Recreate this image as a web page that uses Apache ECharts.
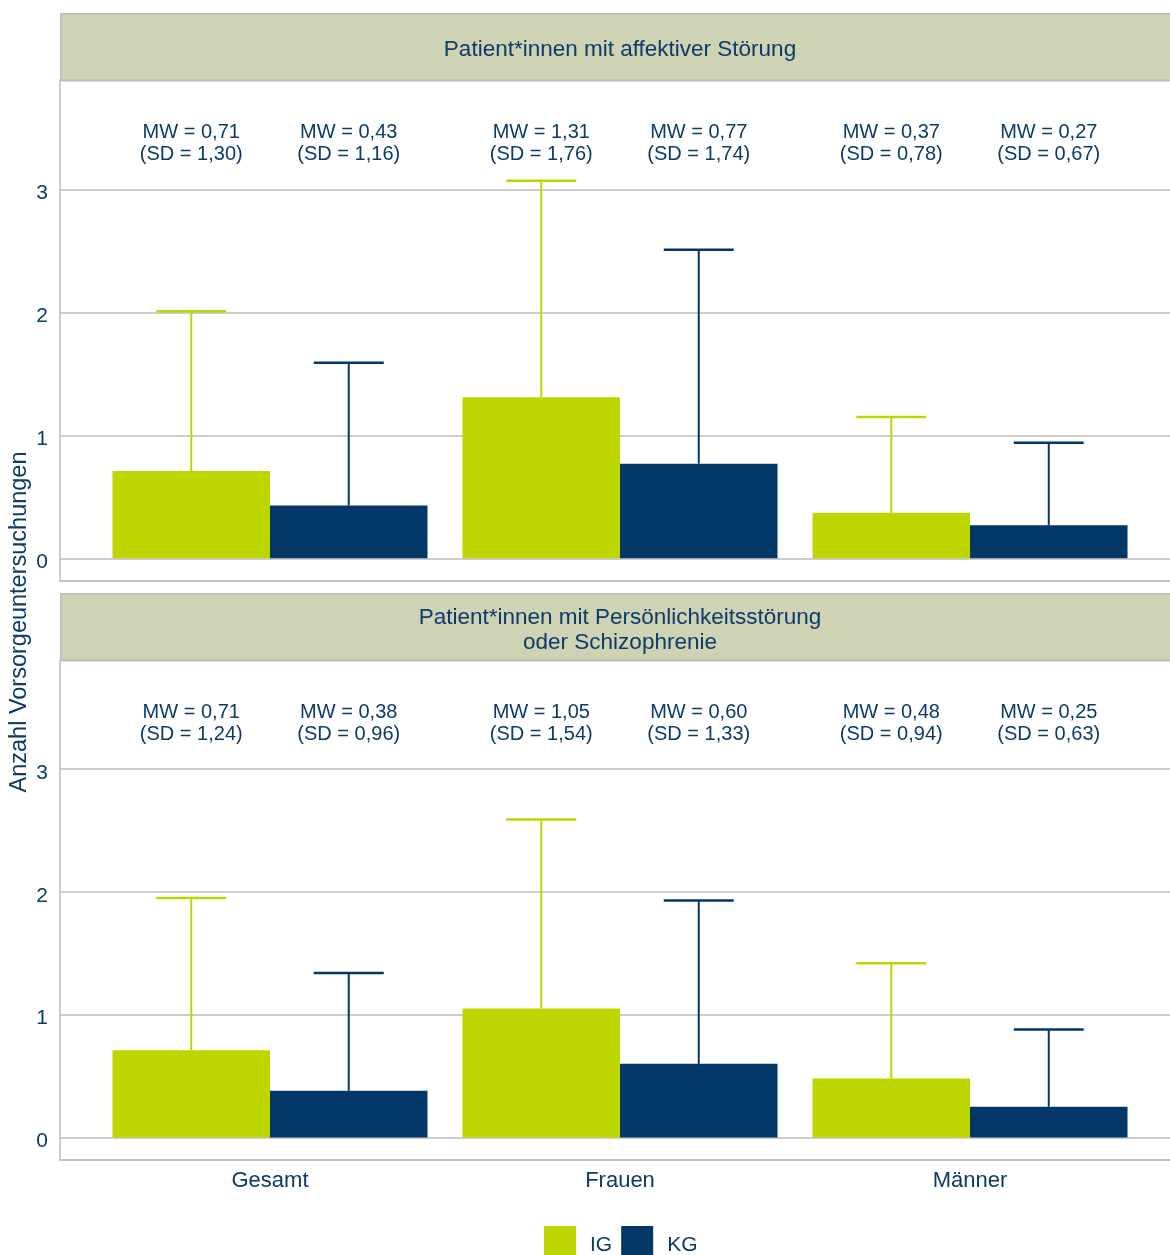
<!DOCTYPE html>
<html>
<head>
<meta charset="utf-8">
<script src="https://cdn.jsdelivr.net/npm/echarts@6/dist/echarts.min.js"></script>
<style>
  html, body { margin: 0; padding: 0; background: #ffffff; }
  #chart { width: 1170px; height: 1255px; }
</style>
</head>
<body>
<div id="chart"></div>
<script>
// Categories and groups
const categories = ['Gesamt', 'Frauen', 'Männer'];
const groups = ['IG', 'KG'];
const panelTitles = [
  'Patient*innen mit affektiver Störung',
  'Patient*innen mit Persönlichkeitsstörung\noder Schizophrenie'
];

// Panel 1: affektive Störung (mean / SD)
const affIGMean = [0.71, 1.31, 0.37];
const affIGSD   = [1.30, 1.76, 0.78];
const affKGMean = [0.43, 0.77, 0.27];
const affKGSD   = [1.16, 1.74, 0.67];

// Panel 2: Persönlichkeitsstörung oder Schizophrenie (mean / SD)
const perIGMean = [0.71, 1.05, 0.48];
const perIGSD   = [1.24, 1.54, 0.94];
const perKGMean = [0.38, 0.60, 0.25];
const perKGSD   = [0.96, 1.33, 0.63];

const yAxisTitle = 'Anzahl Vorsorgeuntersuchungen';

const FONT = '"Liberation Sans", Arial, sans-serif';
const TEXT = '#0c3a69';
const GRID = '#bdbdbd';
const STRIP = '#cdd3b3';
const COLORS = { IG: '#bed600', KG: '#023767' };

const BAR_W = 0.45;    // width of one dodged bar in category units
const CAP_W = 0.2;     // error bar cap width
const LABEL_Y = 3.37;  // vertical position of the MW/SD annotation
const X_MIN = -0.6, X_MAX = 2.5714;  // visible x extent (panel runs off the right edge)

const fmt = v => v.toFixed(2).replace('.', ',');

function rows(means, sds) {
  return means.map((m, i) => [i, m, sds[i]]);
}

function makeRenderer(side) {
  return function (params, api) {
    const i = api.value(0), m = api.value(1), sd = api.value(2);
    const x0 = side === 'IG' ? i - BAR_W : i;
    const x1 = side === 'IG' ? i : i + BAR_W;
    const xc = (x0 + x1) / 2;
    const bl = api.coord([x0, 0]);
    const tr = api.coord([x1, m]);
    const mid = api.coord([xc, m]);
    const top = api.coord([xc, m + sd]);
    const capL = api.coord([xc - CAP_W / 2, m + sd]);
    const capR = api.coord([xc + CAP_W / 2, m + sd]);
    const lab = api.coord([xc, LABEL_Y]);
    const color = COLORS[side];
    return {
      type: 'group',
      children: [
        { type: 'rect', shape: { x: bl[0], y: tr[1], width: tr[0] - bl[0], height: bl[1] - tr[1] },
          style: { fill: color } },
        { type: 'line', shape: { x1: mid[0], y1: mid[1], x2: top[0], y2: top[1] },
          style: { stroke: color, lineWidth: 2 } },
        { type: 'line', shape: { x1: capL[0], y1: capL[1], x2: capR[0], y2: capR[1] },
          style: { stroke: color, lineWidth: 2.5 } },
        { type: 'text', x: lab[0], y: lab[1],
          style: { text: 'MW = ' + fmt(m) + '\n(SD = ' + fmt(sd) + ')', fill: TEXT,
                   fontSize: 20, fontFamily: FONT, align: 'center', verticalAlign: 'middle', lineHeight: 22 } }
      ]
    };
  };
}

const panels = [
  { top: 80, height: 501, IG: rows(affIGMean, affIGSD), KG: rows(affKGMean, affKGSD) },
  { top: 660, height: 500, IG: rows(perIGMean, perIGSD), KG: rows(perKGMean, perKGSD) }
];

const grids = [], xAxes = [], yAxes = [], series = [], graphics = [];

panels.forEach((p, k) => {
  grids.push({ left: 60, right: 0, top: p.top, height: p.height, containLabel: false });
  xAxes.push({
    gridIndex: k, type: 'value', min: X_MIN, max: X_MAX,
    axisLine: { show: true, onZero: false, lineStyle: { color: GRID, width: 1.5 } },
    axisTick: { show: false },
    splitLine: { show: false },
    axisLabel: {
      show: k === 1, customValues: [0, 1, 2], margin: 10,
      formatter: v => (Number.isInteger(v) && categories[v]) ? categories[v] : '',
      color: TEXT, fontSize: 22, fontFamily: FONT
    }
  });
  yAxes.push({
    gridIndex: k, type: 'value', min: -0.184, max: 3.89, splitNumber: 4,
    axisLine: { show: true, onZero: false, lineStyle: { color: GRID, width: 1.5 } },
    axisTick: { show: false },
    splitLine: { show: true, lineStyle: { color: GRID, width: 1.5 } },
    axisLabel: {
      margin: 12, color: TEXT, fontSize: 21, fontFamily: FONT,
      verticalAlign: 'top', lineHeight: 8,
      formatter: v => Number.isInteger(v) ? String(v) : ''
    }
  });
  groups.forEach(g => {
    series.push({
      name: g, type: 'custom', xAxisIndex: k, yAxisIndex: k,
      itemStyle: { color: COLORS[g] },
      encode: { x: 0, y: 1 },
      data: p[g],
      renderItem: makeRenderer(g),
      clip: false, silent: true
    });
  });
  // facet strip with panel title
  const stripTop = p.top - 67;
  graphics.push({
    type: 'rect', left: 60, top: stripTop, z: 0,
    shape: { width: 1120, height: 67 },
    style: { fill: STRIP, stroke: GRID, lineWidth: 1.5 }
  });
  graphics.push({
    type: 'text', x: 620, y: stripTop + 37, z: 1,
    style: { text: panelTitles[k], fill: TEXT, fontSize: 22.5, fontFamily: FONT,
             align: 'center', verticalAlign: 'middle', lineHeight: 25 }
  });
});

graphics.push({
  type: 'text', x: 20, y: 622, rotation: Math.PI / 2,
  style: { text: yAxisTitle, fill: TEXT, fontSize: 23.5, fontFamily: FONT,
           align: 'center', verticalAlign: 'middle' }
});

const chart = echarts.init(document.getElementById('chart'), null, { renderer: 'canvas' });
chart.setOption({
  animation: false,
  backgroundColor: '#ffffff',
  grid: grids,
  xAxis: xAxes,
  yAxis: yAxes,
  legend: {
    data: groups, left: 544, top: 1226, icon: 'rect', padding: 0,
    itemWidth: 32, itemHeight: 38, itemGap: 9,
    textStyle: { color: TEXT, fontSize: 21, fontFamily: FONT, padding: [0, 0, 0, 9] }
  },
  graphic: graphics,
  series: series
});
</script>
</body>
</html>
